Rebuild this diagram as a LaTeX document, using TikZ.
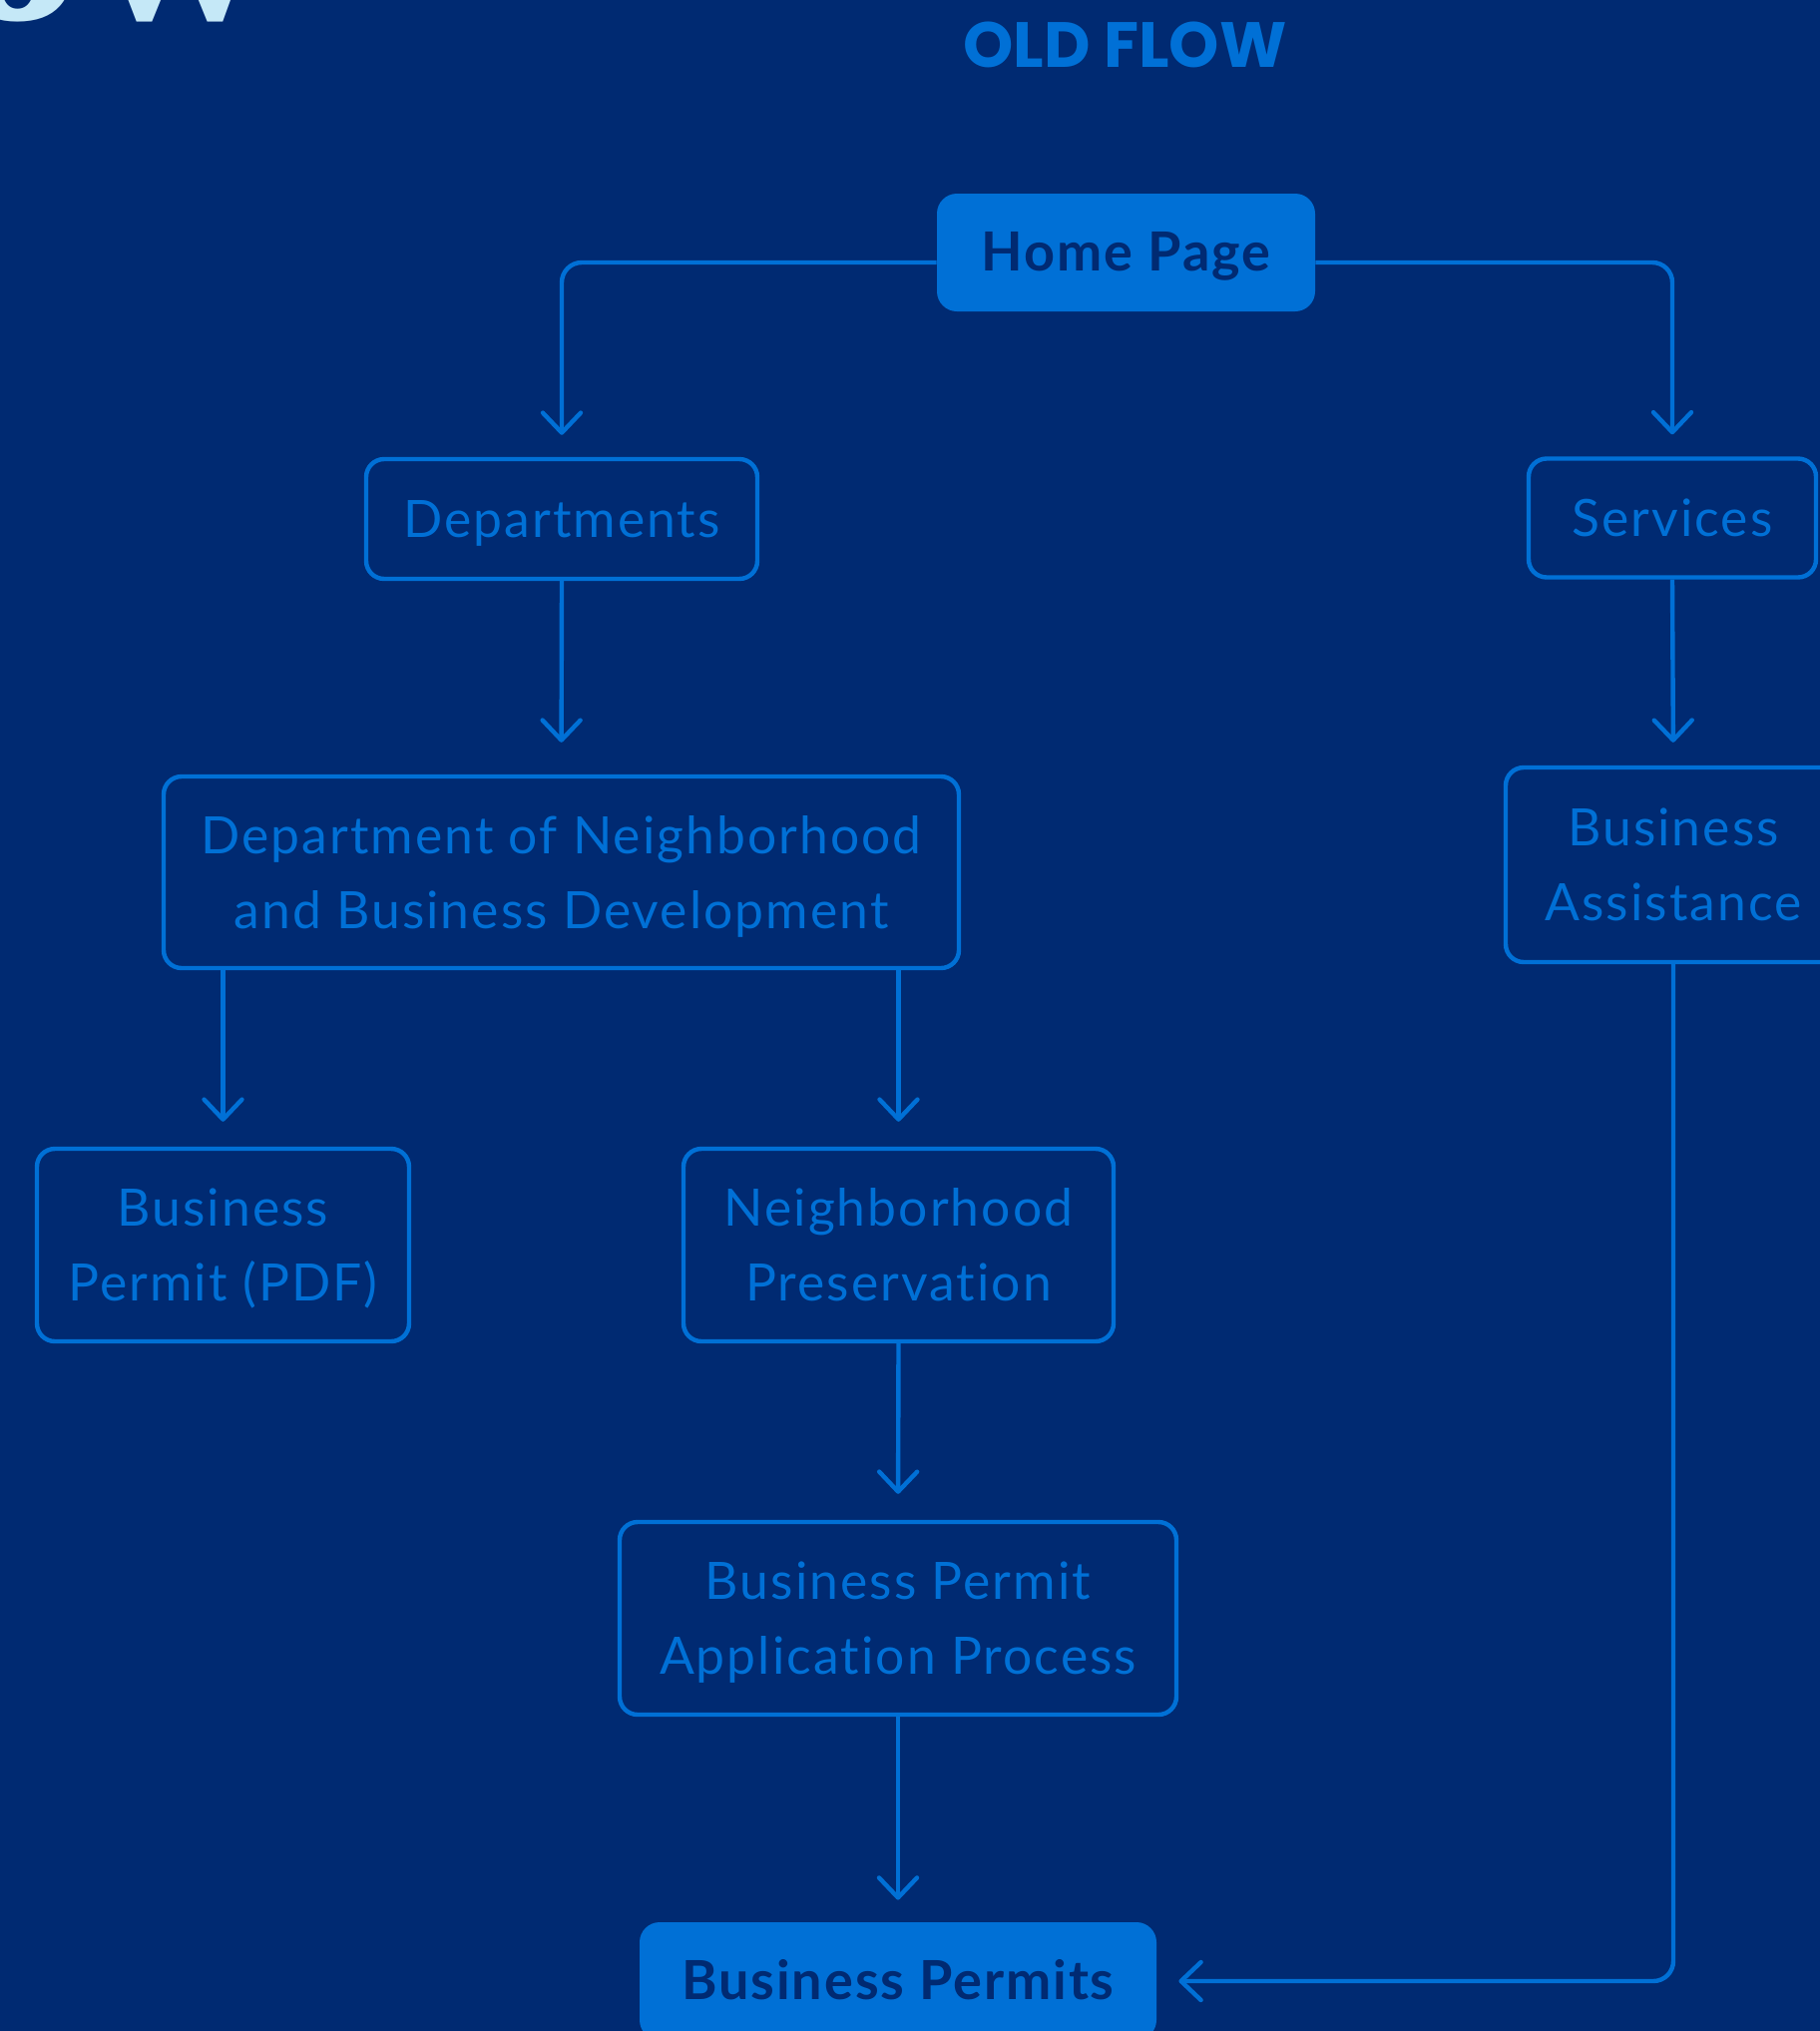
\documentclass[tikz,border=0pt]{standalone}
\usepackage{fontspec}
\setmainfont{Lato}[Ligatures=NoCommon]
\newfontfamily\titlefont{Poppins}
\newfontfamily\serifbig{Liberation Serif}
\usetikzlibrary{arrows.meta}
\definecolor{bg}{RGB}{0,42,114}
\definecolor{acc}{RGB}{0,112,214}
\definecolor{lightc}{RGB}{197,232,247}
\newcommand\ls{\rule[-5pt]{0pt}{28.5pt}}
\tikzset{
  box/.style={draw=acc, line width=2.2pt, rounded corners=9pt, text=acc,
    align=center, inner sep=0pt,
    font=\fontsize{25.8}{37.5}\selectfont\addfontfeatures{LetterSpace=4}},
  solidbox/.style={fill=acc, rounded corners=10pt, text=bg, inner sep=0pt,
    font=\fontsize{27}{32}\selectfont\bfseries\addfontfeatures{LetterSpace=3.5}},
  conn/.style={draw=acc, line width=2.2pt, rounded corners=10pt,
    -{Straight Barb[length=10pt,width=19pt,round]}}
}
\begin{document}
\begin{tikzpicture}[x=0.5pt,y=-0.5pt]
\fill[bg] (0,0) rectangle (1824,2035);
\useasboundingbox (0,0) rectangle (1824,2035);
\clip (0,0) rectangle (1824,2035);

% cropped heading fragment
\node[anchor=base west, inner sep=0pt, text=lightc, font=\serifbig\bfseries\fontsize{132}{132}\selectfont] (frag) at (-48,19) {ow};

\node[anchor=base, inner sep=0pt, text=acc, font=\titlefont\bfseries\fontsize{32}{40}\selectfont] (title) at (1127.5,67) {OLD FLOW};

\node[solidbox, minimum width=189.5pt, minimum height=59pt] (home) at (1128.5,253) {\ls Home Page};
\node[box, minimum width=196pt, minimum height=60pt] (dept) at (563,520) {\ls Departments};
\node[box, minimum width=144pt, minimum height=59.5pt] (serv) at (1676,519) {\ls Services};
\node[box, minimum width=398.5pt, minimum height=96pt] (dnbd) at (562.5,874) {\ls Department of Neighborhood\\\ls and Business Development};
\node[box, minimum width=168pt, minimum height=97.5pt] (ba) at (1677,866.5) {\ls Business\\\ls Assistance};
\node[box, minimum width=186.5pt, minimum height=96.5pt] (bppdf) at (223.5,1247.5) {\ls Business\\\ls Permit (PDF)};
\node[box, minimum width=215.5pt, minimum height=96.5pt] (np) at (900.5,1247.5) {\ls Neighborhood\\\ls Preservation};
\node[box, minimum width=279pt, minimum height=96.5pt] (bpap) at (900,1621.5) {\ls Business Permit\\\ls Application Process};
\node[solidbox, minimum width=259pt, minimum height=59pt] (bp) at (900,1985) {\ls Business Permits};

\draw[conn, shorten >=11pt] ([yshift=-5pt]home.west) -| (dept.north);
\draw[conn, shorten >=11pt] ([yshift=-5pt]home.east) -| (serv.north);
\draw[conn, shorten >=16pt] (dept.south) -- (dnbd.north);
\draw[conn, shorten >=11.5pt] (serv.south) -- (ba.north);
\draw[conn, shorten >=12.5pt] (dnbd.south -| bppdf.north) -- (bppdf.north);
\draw[conn, shorten >=12.5pt] (dnbd.south -| np.north) -- (np.north);
\draw[conn, shorten >=13pt] (np.south) -- (bpap.north);
\draw[conn, shorten >=11pt] (bpap.south) -- (bp.north);
\draw[conn, shorten >=11pt] (ba.south) |- (bp.east);
\end{tikzpicture}
\end{document}
